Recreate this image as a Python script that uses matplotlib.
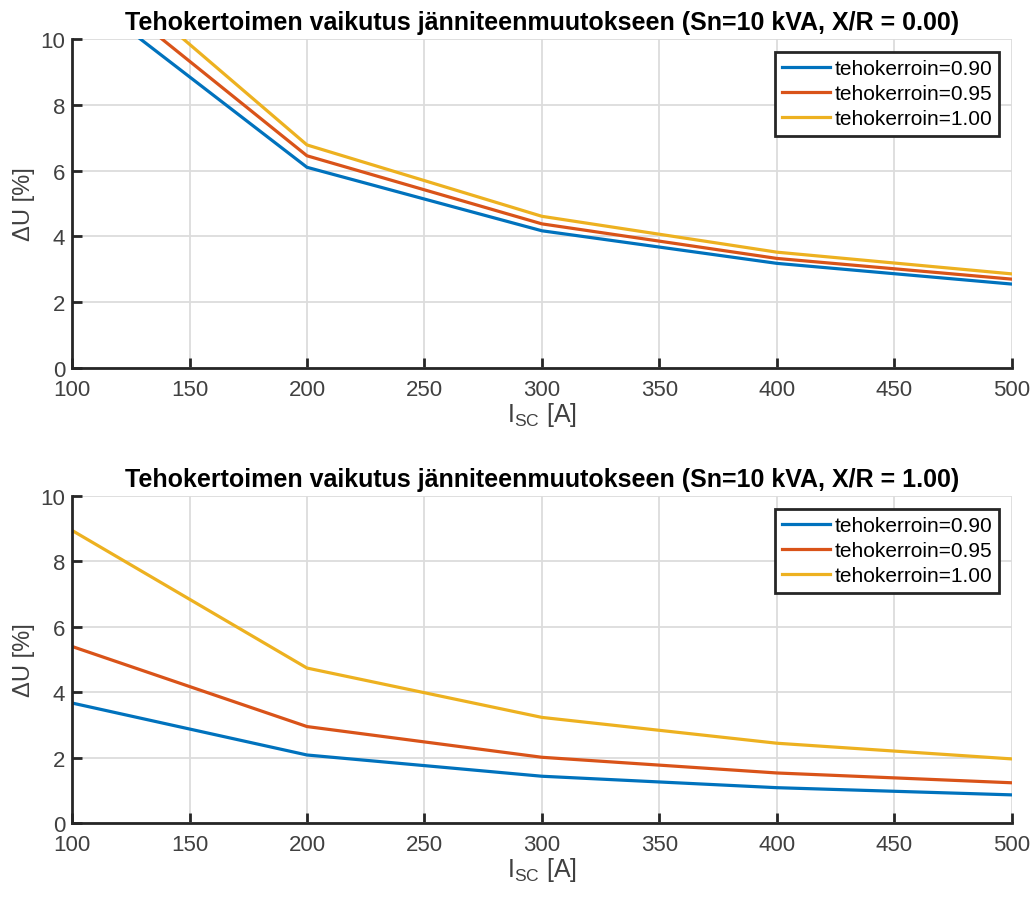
import numpy as np
import matplotlib.pyplot as plt

plt.rcParams['font.family'] = ['Liberation Sans', 'DejaVu Sans']

# short-circuit current [A]
isc = [100, 200, 300, 400, 500]
labels = ['tehokerroin=0.90', 'tehokerroin=0.95', 'tehokerroin=1.00']
colors = ['#0072BD', '#D95319', '#EDB120']

# voltage change [%], X/R = 0.00
du_xr0 = [
    [11.6, 6.10, 4.17, 3.18, 2.55],
    [12.2, 6.45, 4.38, 3.33, 2.70],
    [12.9, 6.78, 4.61, 3.52, 2.86],
]
# voltage change [%], X/R = 1.00
du_xr1 = [
    [3.67, 2.08, 1.43, 1.08, 0.86],
    [5.40, 2.95, 2.01, 1.53, 1.23],
    [8.95, 4.74, 3.23, 2.44, 1.96],
]
xr_values = ['0.00', '1.00']

fig = plt.figure(figsize=(10.35, 9.03), dpi=100)
ax1 = fig.add_axes([0.0696, 0.5914, 0.908, 0.3643])
ax2 = fig.add_axes([0.0696, 0.0875, 0.908, 0.362])

for ax, data, xr in zip([ax1, ax2], [du_xr0, du_xr1], xr_values):
    for vals, lab, c in zip(data, labels, colors):
        ax.plot(isc, vals, color=c, lw=2.3, label=lab)
    ax.set_xlim(100, 500)
    ax.set_ylim(0, 10)
    ax.set_xticks(np.arange(100, 501, 50))
    ax.set_yticks(np.arange(0, 11, 2))
    ax.grid(True, color='#dcdcdc', lw=1.3)
    ax.set_axisbelow(True)
    for s in ['top', 'right']:
        ax.spines[s].set_visible(False)
    for s in ['left', 'bottom']:
        ax.spines[s].set_color('#262626')
        ax.spines[s].set_linewidth(2)
    ax.tick_params(direction='in', length=7, width=2, color='#262626',
                   labelcolor='#404040', labelsize=16, pad=5)
    ax.tick_params(axis='x', pad=8)
    ax.set_xlabel('I$_{\\mathregular{SC}}$ [A]', fontsize=18, color='#404040', labelpad=0)
    ax.set_ylabel('ΔU [%]', fontsize=17, color='#404040', labelpad=4)
    ax.set_title('Tehokertoimen vaikutus jänniteenmuutokseen (Sn=10 kVA, X/R = %s)' % xr,
                 fontsize=18, fontweight='bold', pad=7)
    leg = ax.legend(loc='upper right', fontsize=15, fancybox=False, framealpha=1,
                    edgecolor='#262626', handlelength=2.3, handletextpad=0.2,
                    borderpad=0.35, labelspacing=0.3, borderaxespad=0.6)
    leg.get_frame().set_linewidth(2)

fig.savefig('out.png', dpi=100)
